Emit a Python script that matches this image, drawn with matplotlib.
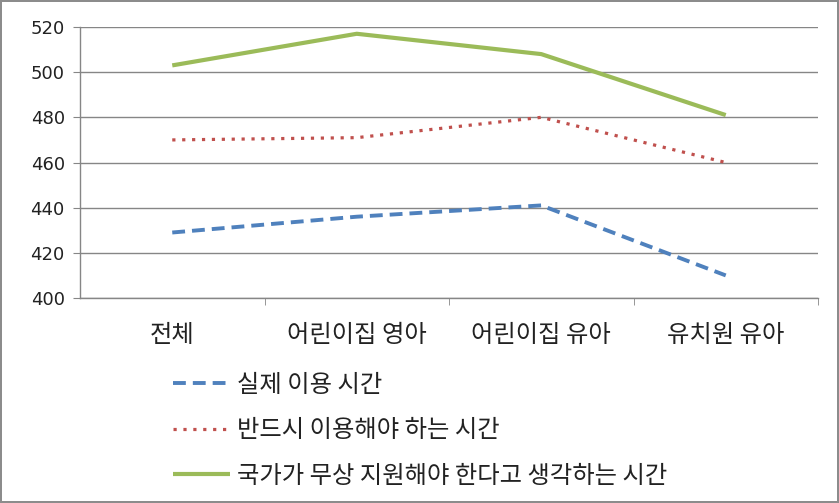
import numpy as np
import matplotlib
matplotlib.use('Agg')
import matplotlib.pyplot as plt

plt.rcParams['font.family'] = ['Noto Sans CJK KR', 'DejaVu Sans']

categories = ['전체', '어린이집 영아', '어린이집 유아', '유치원 유아']
actual = [429, 436, 441, 410]
required = [470, 471, 480, 460]
free_support = [503, 517, 508, 481]

series_names = ['실제 이용 시간', '반드시 이용해야 하는 시간', '국가가 무상 지원해야 한다고 생각하는 시간']

fig = plt.figure(figsize=(8.39, 5.03), dpi=100, linewidth=1.5, edgecolor='#8c8c8c')
ax = fig.add_axes([80/839, 1-298/503, 738/839, 271/503])

x = np.arange(len(categories))
l1, = ax.plot(x, actual, color='#4F81BD', lw=2.8, dashes=(3.3, 1.8), solid_capstyle='butt')
l2, = ax.plot(x, required, color='#C0504D', lw=2.3, dashes=(1, 2.1))
l3, = ax.plot(x, free_support, color='#9BBB59', lw=3.0, solid_capstyle='butt')

ax.set_xlim(-0.5, 3.5)
ax.set_ylim(400, 520)
ax.set_yticks(range(400, 521, 20))
ax.yaxis.grid(True, color='#868686', lw=1)
ax.set_axisbelow(True)

ax.set_xticks([0, 1, 2, 3])
ax.set_xticklabels(categories, fontsize=17.5, color='#222222')
ax.set_xticks([0.5, 1.5, 2.5, 3.5], minor=True)
ax.tick_params(axis='x', which='major', length=0, pad=17)
ax.tick_params(axis='x', which='minor', length=5, color='#868686', direction='out')
ax.tick_params(axis='y', length=5, color='#868686', labelsize=13, pad=6, labelcolor='#222222')
for lab in ax.get_yticklabels():
    lab.set_family('DejaVu Sans')

for s in ['top', 'right']:
    ax.spines[s].set_visible(False)
for s in ['left', 'bottom']:
    ax.spines[s].set_color('#868686')
    ax.spines[s].set_linewidth(1)

leg = fig.legend([l1, l2, l3], series_names, loc='upper left', bbox_to_anchor=(173/839, 1-372/503),
                 frameon=False, fontsize=17.5, handlelength=2.35, handletextpad=0.3, labelspacing=0.8,
                 borderaxespad=0, borderpad=0)
for t in leg.get_texts():
    t.set_color('#222222')

fig.savefig('out.png', dpi=100)
